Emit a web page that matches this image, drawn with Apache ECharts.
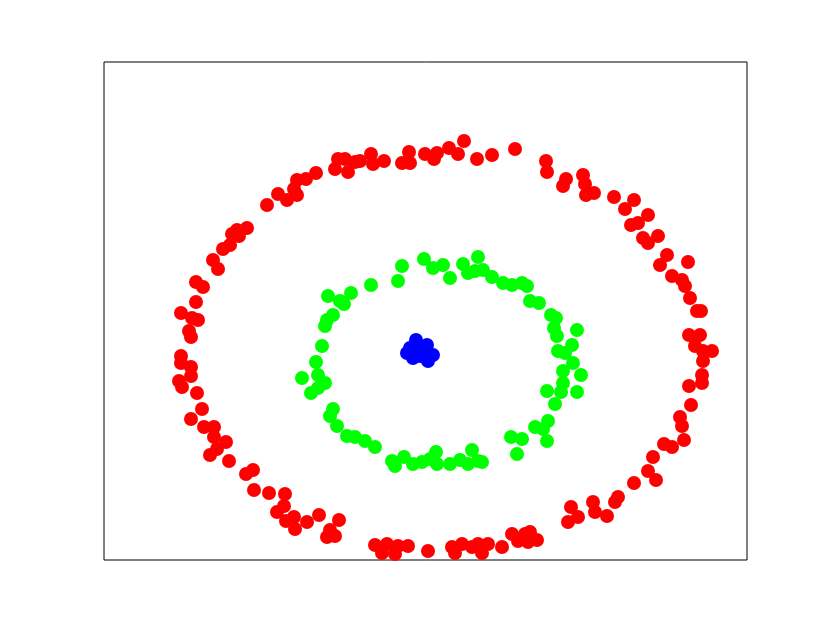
<!DOCTYPE html>
<html>
<head>
<meta charset="utf-8">
<script src="https://cdn.jsdelivr.net/npm/echarts@6/dist/echarts.min.js"></script>
<style>
  html, body { margin: 0; padding: 0; background: #fff; }
  #chart { width: 830px; height: 623px; }
</style>
</head>
<body>
<div id="chart"></div>
<script>
// outer ring
var outerRing = [
  [-1.86, 1.16], [-1.81, 1.20], [-1.51, 1.45], [-1.40, 1.56], [-1.31, 1.50], [-1.21, 1.55],
  [-1.24, 1.61], [-1.21, 1.70], [-1.12, 1.71], [-1.02, 1.77], [-0.83, 1.81], [-0.80, 1.91],
  [-0.73, 1.91], [-0.70, 1.78], [-0.63, 1.88], [-0.58, 1.89], [-0.47, 1.96], [-0.45, 1.86],
  [-0.34, 1.89], [-0.16, 1.87], [-0.09, 1.98], [-0.08, 1.87], [0.07, 1.96], [0.16, 1.91],
  [0.19, 1.97], [0.31, 2.02], [0.40, 1.96], [0.46, 2.09], [0.59, 1.91], [0.74, 1.95],
  [0.97, 2.01], [1.28, 1.89], [1.29, 1.78], [1.48, 1.71], [1.45, 1.64], [1.65, 1.75],
  [1.67, 1.66], [1.68, 1.55], [1.76, 1.57], [1.96, 1.53], [2.07, 1.41], [2.16, 1.50],
  [2.30, 1.35], [2.13, 1.25], [2.20, 1.27], [2.25, 1.12], [2.30, 1.07], [2.40, 1.14],
  [2.49, 0.95], [2.42, 0.85], [2.70, 0.88], [2.54, 0.74], [2.64, 0.70], [2.67, 0.64],
  [2.72, 0.52], [2.79, 0.39], [2.83, 0.39], [2.71, 0.15], [2.82, 0.15], [2.77, 0.04],
  [2.94, -0.01], [2.85, -0.01], [2.85, -0.11], [2.84, -0.25], [2.84, -0.33], [2.71, -0.36],
  [2.73, -0.55], [2.62, -0.67], [2.64, -0.76], [2.66, -0.90], [2.46, -0.94], [2.54, -0.97],
  [2.35, -1.07], [2.30, -1.21], [2.38, -1.30], [2.16, -1.33], [2.00, -1.47], [1.97, -1.52],
  [1.75, -1.52], [1.77, -1.62], [1.89, -1.66], [1.53, -1.57], [1.60, -1.67], [1.50, -1.72],
  [1.12, -1.82], [1.19, -1.90], [1.10, -1.92], [1.07, -1.84], [1.00, -1.91], [0.94, -1.84],
  [0.84, -1.97], [0.70, -1.94], [0.64, -2.03], [0.60, -1.94], [0.54, -1.97], [0.44, -1.94],
  [0.37, -2.03], [0.34, -1.97], [0.10, -2.01], [-0.10, -1.96], [-0.20, -1.96], [-0.23, -2.04],
  [-0.31, -1.94], [-0.36, -2.03], [-0.43, -1.95], [-0.83, -1.86], [-0.91, -1.87], [-0.88, -1.80],
  [-0.79, -1.70], [-0.99, -1.65], [-1.11, -1.72], [-1.23, -1.79], [-1.24, -1.67], [-1.32, -1.71],
  [-1.41, -1.62], [-1.34, -1.56], [-1.33, -1.44], [-1.49, -1.43], [-1.64, -1.40], [-1.65, -1.20],
  [-1.72, -1.24], [-1.89, -1.11], [-2.08, -1.05], [-2.01, -0.99], [-1.92, -0.92], [-2.04, -0.87],
  [-2.04, -0.77], [-2.14, -0.77], [-2.27, -0.69], [-2.16, -0.59], [-2.21, -0.43], [-2.36, -0.37],
  [-2.39, -0.31], [-2.27, -0.26], [-2.27, -0.17], [-2.37, -0.13], [-2.37, -0.06], [-2.27, 0.13],
  [-2.29, 0.19], [-2.20, 0.30], [-2.26, 0.32], [-2.37, 0.37], [-2.22, 0.48], [-2.15, 0.63],
  [-2.22, 0.68], [-2.00, 0.81], [-2.05, 0.90], [-1.95, 1.01], [-1.88, 1.05], [-1.79, 1.14],
  [-1.71, 1.22]
];

// middle ring
var middleRing = [
  [-0.90, 0.54], [-0.78, 0.49], [-0.74, 0.46], [-0.67, 0.57], [-0.47, 0.65], [-0.16, 0.84],
  [-0.20, 0.69], [0.06, 0.91], [0.15, 0.82], [0.25, 0.85], [0.32, 0.72], [0.45, 0.86],
  [0.50, 0.77], [0.60, 0.93], [0.57, 0.79], [0.65, 0.80], [0.74, 0.73], [0.85, 0.67],
  [0.94, 0.65], [1.04, 0.67], [1.09, 0.64], [1.12, 0.49], [1.21, 0.47], [1.33, 0.35],
  [1.38, 0.32], [1.36, 0.22], [1.59, 0.20], [1.39, 0.14], [1.54, 0.05], [1.40, -0.01],
  [1.47, -0.03], [1.55, -0.13], [1.45, -0.21], [1.63, -0.25], [1.45, -0.33], [1.29, -0.41],
  [1.43, -0.42], [1.59, -0.42], [1.37, -0.54], [1.30, -0.71], [1.17, -0.77], [1.25, -0.79],
  [1.29, -0.91], [1.04, -0.89], [0.93, -0.87], [0.99, -1.04], [0.64, -1.12], [0.60, -1.11],
  [0.50, -1.14], [0.54, -1.00], [0.42, -1.10], [0.32, -1.14], [0.19, -1.14], [0.18, -1.02],
  [0.12, -1.09], [0.04, -1.12], [-0.05, -1.14], [-0.14, -1.07], [-0.23, -1.16], [-0.26, -1.11],
  [-0.43, -0.97], [-0.53, -0.91], [-0.63, -0.87], [-0.71, -0.86], [-0.81, -0.76], [-0.88, -0.66],
  [-0.85, -0.59], [-1.07, -0.43], [-1.00, -0.38], [-0.93, -0.33], [-1.00, -0.25], [-1.16, -0.28],
  [-1.02, -0.12], [-0.96, 0.04], [-0.93, 0.24], [-0.91, 0.30], [-0.85, 0.35]
];

// center cluster
var centerBlob = [
  [-0.02, 0.10], [-0.11, -0.03], [-0.05, -0.08], [0.09, 0.05], [0.15, -0.05],
  [0.10, -0.11], [0.03, 0.00], [-0.08, 0.02], [0.02, -0.06]
];

var chart = echarts.init(document.getElementById('chart'));

function ring(name, data, color) {
  return {
    name: name,
    type: 'scatter',
    data: data,
    symbolSize: 14,
    itemStyle: { color: color, opacity: 1 },
    emphasis: { disabled: true },
    silent: true
  };
}

chart.setOption({
  backgroundColor: '#fff',
  animation: false,
  grid: {
    left: 104,
    top: 62,
    width: 643,
    height: 498,
    show: true,
    borderColor: '#000',
    borderWidth: 1,
    backgroundColor: 'transparent'
  },
  xAxis: {
    type: 'value',
    min: -3.14,
    max: 3.29,
    axisLine: { show: false },
    axisTick: { show: false },
    axisLabel: { show: false },
    splitLine: { show: false }
  },
  yAxis: {
    type: 'value',
    min: -2.10,
    max: 2.88,
    axisLine: { show: false },
    axisTick: { show: false },
    axisLabel: { show: false },
    splitLine: { show: false }
  },
  series: [
    ring('outer', outerRing, '#ff0000'),
    ring('middle', middleRing, '#00ff00'),
    ring('center', centerBlob, '#0000ff')
  ]
});
</script>
</body>
</html>
